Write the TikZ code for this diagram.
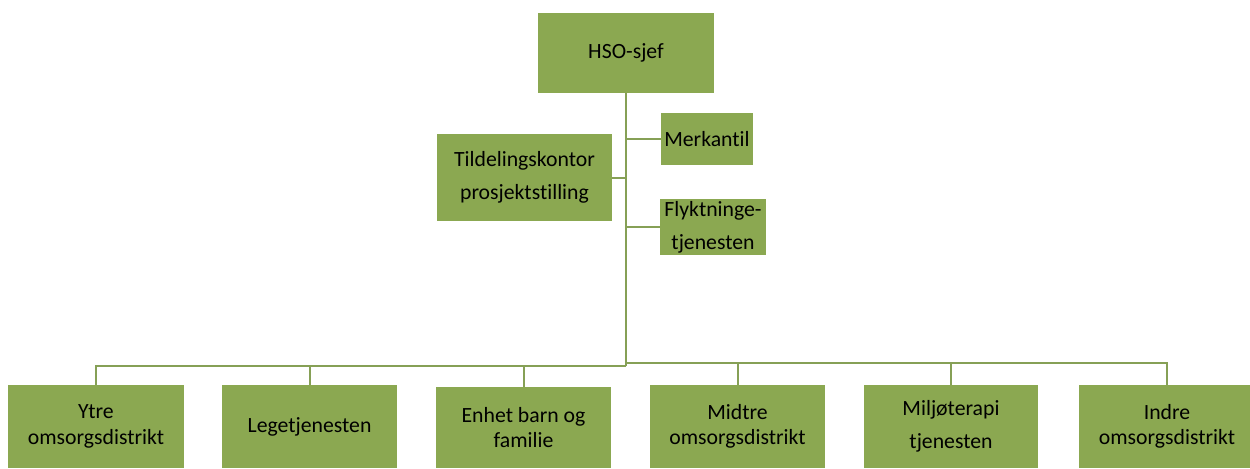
\documentclass[tikz,border=0pt]{standalone}
\usepackage{fontspec}
\setmainfont{Carlito}[Ligatures=NoCommon]
\definecolor{boxgreen}{RGB}{139,168,81}
\definecolor{linegreen}{RGB}{134,160,86}
\begin{document}
\begin{tikzpicture}[x=0.75pt,y=-0.75pt,
  box/.style={fill=boxgreen,draw=none,inner sep=0pt,align=center,text=black,
    font=\fontsize{16.3}{19}\selectfont},
  wide/.style={font=\fontsize{16.3}{24.5}\selectfont},
  conn/.style={draw=linegreen,line width=1.5pt}]
\useasboundingbox (0,0) rectangle (1250,468);
% top nodes
\node[box,minimum width=132pt,minimum height=60pt] (hso) at (626,53) {HSO-sjef};
\node[box,minimum width=69pt,minimum height=39pt] (merk) at (707,139) {Merkantil};
\node[box,wide,minimum width=131.25pt,minimum height=65.25pt] (tild) at (524.5,177.5) {Tildelingskontor\\prosjektstilling};
\node[box,wide,minimum width=79.5pt,minimum height=42pt] (flykt) at (713,227) {Flyktninge-\\tjenesten};
% bottom row
\node[box,minimum width=132pt,minimum height=62.25pt] (ytre) at (96,426.5) {Ytre\\omsorgsdistrikt};
\node[box,minimum width=131.25pt,minimum height=62.25pt] (lege) at (309.5,426.5) {Legetjenesten};
\node[box,minimum width=131.25pt,minimum height=60.75pt] (enhet) at (523.5,427.5) {Enhet barn og\\familie};
\node[box,minimum width=131.25pt,minimum height=62.25pt] (midtre) at (737.5,426.5) {Midtre\\omsorgsdistrikt};
\node[box,wide,minimum width=130.5pt,minimum height=62.25pt] (milj) at (951,426.5) {Milj\o terapi\\tjenesten};
\node[box,minimum width=132pt,minimum height=62.25pt] (indre) at (1167,426.5) {Indre\\omsorgsdistrikt};
% connectors
\coordinate (busL) at (626,366);
\coordinate (busR) at (626,363);
\draw[conn] (hso.south) -- (busL);
\draw[conn] (merk.west) -- (merk.west -| hso.south);
\draw[conn] (tild.east) -- (tild.east -| hso.south);
\draw[conn] (flykt.west) -- (flykt.west -| hso.south);
\draw[conn] (busL) -| (ytre.north);
\draw[conn] (busL) -| (lege.north);
\draw[conn] (busL) -| (enhet.north);
\draw[conn] (busR) -| (midtre.north);
\draw[conn] (busR) -| (milj.north);
\draw[conn] (busR) -| (indre.north);
\end{tikzpicture}
\end{document}
